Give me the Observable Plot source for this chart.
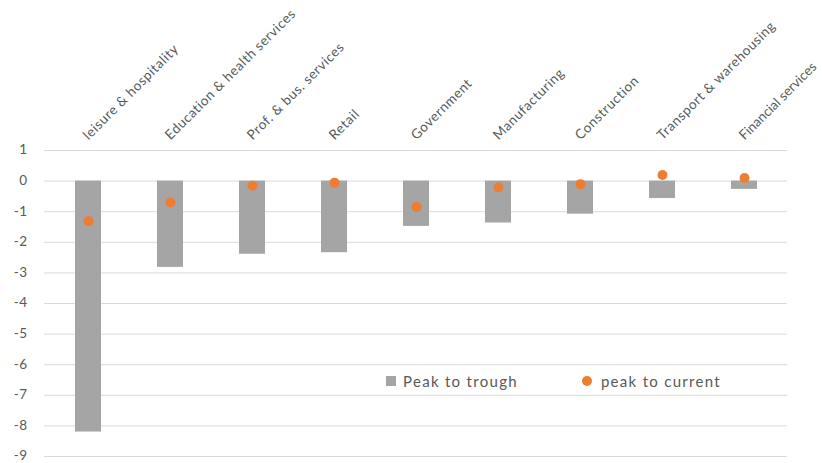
<!DOCTYPE html>
<html>
<head>
<meta charset="utf-8">
<script src="https://cdn.jsdelivr.net/npm/d3@7"></script>
<script src="https://cdn.jsdelivr.net/npm/@observablehq/plot@0.6"></script>
<style>
  html, body { margin: 0; padding: 0; background: #fff; }
  #wrap { position: relative; width: 822px; height: 463px; overflow: hidden; font-family: Lato, "Open Sans", sans-serif; }
  #chart svg { overflow: visible; }
  #chart g[aria-label="x-axis tick label"] text { letter-spacing: 0.55px; }
  #chart g[aria-label="x-axis tick label"] text:last-child { letter-spacing: 0px; }
  #chart g[aria-label="y-axis tick label"] text { letter-spacing: 0.5px; }
  #legend { position: absolute; left: 386px; top: 372px; display: flex; align-items: center; font-size: 15px; color: #595959; letter-spacing: 1.3px; }
  #legend .item { display: flex; align-items: center; }
  #legend .sq { width: 10px; height: 10px; background: #A5A5A5; margin-right: 7px; }
  #legend .dot { width: 10px; height: 10px; border-radius: 50%; background: #ED7D31; margin-right: 9px; }
</style>
</head>
<body>
<div id="wrap">
  <div id="chart"></div>
  <div id="legend">
    <div class="item"><div class="sq"></div><span>Peak to trough</span></div>
    <div class="item" style="margin-left:64px"><div class="dot"></div><span>peak to current</span></div>
  </div>
</div>
<script>
const categories = ["leisure & hospitality", "Education & health services", "Prof. & bus. services", "Retail", "Government", "Manufacturing", "Construction", "Transport & warehousing", "Financial services"];
const peakToTrough = [-8.2, -2.82, -2.39, -2.34, -1.48, -1.37, -1.08, -0.57, -0.27];
const peakToCurrent = [-1.31, -0.70, -0.15, -0.05, -0.85, -0.21, -0.10, 0.20, 0.10];
const yTicks = [1, 0, -1, -2, -3, -4, -5, -6, -7, -8, -9];

const data = categories.map((c, i) => ({cat: c, trough: peakToTrough[i], current: peakToCurrent[i]}));

const chart = Plot.plot({
  width: 822,
  height: 463,
  marginLeft: 44,
  marginRight: 35,
  marginTop: 150,
  marginBottom: 7,
  style: {fontFamily: "Lato, 'Open Sans', sans-serif", color: "#595959", background: "#fff"},
  x: {domain: categories, paddingInner: 0.685, paddingOuter: 0.3425},
  y: {domain: [-9, 1]},
  marks: [
    Plot.gridY(yTicks, {stroke: "#d9d9d9", strokeOpacity: 1, strokeWidth: 1}),
    Plot.axisY(yTicks, {tickSize: 0, tickPadding: 17, fontSize: 13.5, dy: -0.5, fill: "#595959", tickFormat: d => String(d)}),
    Plot.axisX({anchor: "top", tickSize: 0, tickPadding: 13, tickRotate: -45, textAnchor: "start", dx: -3, fontSize: 13.5, fill: "#595959", label: null}),
    Plot.barY(data, {x: "cat", y1: 0, y2: "trough", fill: "#A5A5A5"}),
    Plot.dot(data, {x: "cat", y: "current", r: 5, fill: "#ED7D31", stroke: "none"})
  ]
});
document.getElementById("chart").appendChild(chart);
</script>
</body>
</html>
